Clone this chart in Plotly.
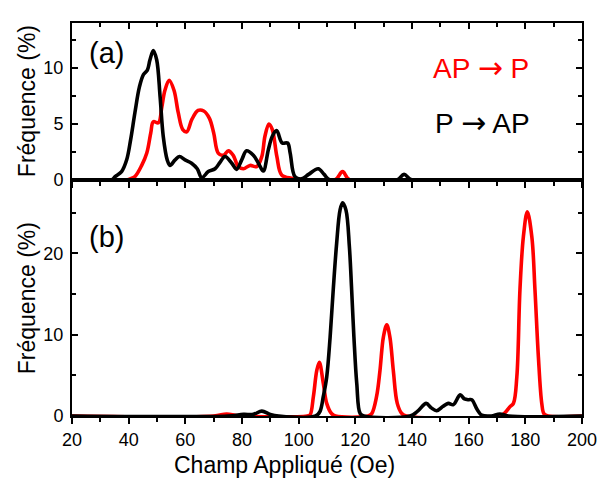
import plotly.graph_objects as go

# ---- data ----
# Panel (a)
a_black_x = [20, 34, 35.2, 37.5, 39.3, 40.7, 42.2, 43.8, 45.2, 46.6, 47.5, 48.7, 49.9, 51.1, 52.2, 53.6,
             54.6, 56.4, 57.9, 59.9, 62.2, 64.2, 65.8, 68.1, 70.5, 72.3, 74, 76.4, 78.1, 79.9, 81.6, 84,
             85.8, 87.5, 89.3, 90.7, 92.2, 94.2, 96.1, 97, 98.7, 101, 103.5, 106.9, 109, 111, 134.6,
             137.2, 140, 200]
a_black_y = [0, 0, 0.3, 0.75, 1.8, 3.6, 6.0, 8.3, 9.4, 9.8, 10.7, 11.55, 10.7, 7.4, 3.9, 1.8,
             1.3, 1.8, 2.1, 1.8, 1.5, 1.0, 0.2, 0.75, 1.0, 1.6, 2.1, 1.5, 0.95, 1.8, 2.6, 2.2,
             1.5, 0.8, 2.7, 3.9, 4.4, 3.3, 3.3, 2.4, 0.3, 0.1, 0.5, 1.0, 0.5, 0, 0,
             0.5, 0, 0]
a_red_x = [20, 39, 40.5, 42.2, 44.6, 46.4, 47.8, 48.7, 50.5, 51.7, 52.8, 54.3, 56.0, 57.5, 59.1, 60.5,
           62.3, 64.5, 66.5, 68.5, 70.0, 71.6, 73.4, 75.2, 76.9, 78.7, 80.5, 82.8, 85.2, 87,
           88.1, 89.5, 90.7, 92.3, 94, 97.5, 101, 112.8, 115.5, 118.1, 200]
a_red_y = [0, 0, 0.1, 0.3, 1.3, 2.4, 4.2, 5.2, 5.1, 6.5, 8.0, 8.9, 8.0, 6.0, 4.5, 4.3,
           5.4, 6.2, 6.15, 5.5, 4.2, 2.4, 2.2, 2.6, 2.2, 1.2, 1.0, 1.3, 1.2, 2.1,
           3.9, 5.0, 4.5, 2.1, 0.45, 0.15, 0.05, 0, 0.75, 0, 0]

# Panel (b)
b_black_x = [20, 75, 80.5, 84, 87, 90, 93, 106, 107.5, 108.7, 109.9, 111.1, 112.2, 113.4, 114.6, 115.5,
             116.7, 117.9, 118.7, 119.5, 120.5, 121.7, 123, 139.3, 142, 145, 146.8, 148.7, 151, 152.8,
             154.6, 157, 158.5, 160, 161.1, 163, 164.6, 168, 171, 174, 200]
b_black_y = [0, 0, 0.2, 0.2, 0.6, 0.2, 0, 0, 0.53, 2.4, 4.8, 9.7, 15.5, 21.2, 25.3, 26.2,
             25.3, 20.8, 15.5, 9.7, 4.0, 0.3, 0, 0, 0.6, 1.55, 1.0, 0.65, 1.2, 1.55,
             1.4, 2.6, 2.1, 2.0, 2.0, 0.8, 0.1, 0, 0.25, 0, 0]
b_red_x = [20, 70, 74.6, 79, 103, 104, 105.2, 106.4, 107.3, 108.7, 109.9, 111.6, 113, 124.5, 125.8,
           127.5, 128.7, 129.9, 131.1, 132.2, 133.4, 134.8, 136.4, 138, 171, 172.8, 174.6, 175.8,
           177.0, 178.1, 179.3, 180.7, 182.3, 183.4, 184.6, 185.8, 186.6, 188, 200]
b_red_y = [0, 0, 0.25, 0, 0, 0.12, 2.4, 5.6, 6.6, 4.0, 1.55, 0.3, 0, 0, 0.3,
           2.4, 5.6, 9.7, 11.2, 9.7, 5.6, 1.55, 0.3, 0, 0, 0.4, 1.15, 1.55,
           4.8, 15.5, 22.0, 25.1, 22.0, 15.5, 7.3, 1.55, 0.25, 0, 0]

x_tick_vals = [20, 40, 60, 80, 100, 120, 140, 160, 180, 200]
a_tick_vals = [0, 5, 10]
b_tick_vals = [0, 10, 20]

legend_labels = ["AP {arrow} P", "P {arrow} AP"]
panel_labels = ["(a)", "(b)"]
x_title = "Champ Appliqué (Oe)"
y_title = "Fréquence (%)"

RED = "#ff0000"
BLACK = "#000000"
FONT = "Liberation Sans, Arial, sans-serif"
LW = 3.6
SM = 1.0

fig = go.Figure()
fig.add_trace(go.Scatter(x=a_red_x, y=a_red_y, mode="lines", line=dict(color=RED, width=LW, shape="spline", smoothing=SM),
                         xaxis="x", yaxis="y", showlegend=False, hoverinfo="skip"))
fig.add_trace(go.Scatter(x=a_black_x, y=a_black_y, mode="lines", line=dict(color=BLACK, width=LW, shape="spline", smoothing=SM),
                         xaxis="x", yaxis="y", showlegend=False, hoverinfo="skip"))
fig.add_trace(go.Scatter(x=a_black_x, y=a_black_y, mode="lines", line=dict(color="rgba(0,0,0,0)", width=0),
                         xaxis="x3", yaxis="y", showlegend=False, hoverinfo="skip"))
fig.add_trace(go.Scatter(x=b_red_x, y=b_red_y, mode="lines", line=dict(color=RED, width=LW, shape="spline", smoothing=SM),
                         xaxis="x2", yaxis="y2", showlegend=False, hoverinfo="skip"))
fig.add_trace(go.Scatter(x=b_black_x, y=b_black_y, mode="lines", line=dict(color=BLACK, width=LW, shape="spline", smoothing=SM),
                         xaxis="x2", yaxis="y2", showlegend=False, hoverinfo="skip"))

split = 0.6005
common_x = dict(range=[20, 200], showgrid=False, zeroline=False, linecolor="black", linewidth=2,
                tickcolor="black", tickwidth=1.5, automargin=False)

fig.update_layout(
    width=599, height=484, autosize=False,
    margin=dict(l=72, r=17, t=23, b=68, autoexpand=False),
    paper_bgcolor="white", plot_bgcolor="rgba(0,0,0,0)",
    font=dict(family=FONT, size=18, color="black"),
    xaxis=dict(**common_x, domain=[0, 1], anchor="y", showline=True, mirror=True,
               ticks="outside", ticklen=6, tickvals=x_tick_vals, showticklabels=False,
               minor=dict(dtick=10, tick0=20, ticks="outside", ticklen=4, tickcolor="black", tickwidth=1.5)),
    xaxis3=dict(**common_x, overlaying="x", anchor="y", side="top", matches="x", showline=False,
                ticks="inside", ticklen=6, tickvals=x_tick_vals, showticklabels=False,
                minor=dict(dtick=10, tick0=20, ticks="inside", ticklen=4, tickcolor="black", tickwidth=1.5)),
    yaxis=dict(domain=[split, 1], anchor="x", range=[0, 14], showgrid=False, zeroline=False,
               showline=True, mirror="ticks", linecolor="black", linewidth=2, automargin=False,
               ticks="inside", ticklen=6, tickwidth=1.5, tickcolor="black", tickvals=a_tick_vals,
               ticklabelstandoff=3,
               minor=dict(dtick=2.5, tick0=0, ticks="inside", ticklen=4, tickcolor="black", tickwidth=1.5)),
    xaxis2=dict(**common_x, domain=[0, 1], anchor="y2", showline=True, mirror=True,
                ticks="outside", ticklen=6, tickvals=x_tick_vals, showticklabels=True,
                minor=dict(dtick=10, tick0=20, ticks="outside", ticklen=4, tickcolor="black", tickwidth=1.5)),
    yaxis2=dict(domain=[0, split], anchor="x2", range=[0, 29], showgrid=False, zeroline=False,
                showline=True, mirror="ticks", linecolor="black", linewidth=2, automargin=False,
                ticks="inside", ticklen=6, tickwidth=1.5, tickcolor="black", tickvals=b_tick_vals,
                ticklabelstandoff=3,
                minor=dict(dtick=5, tick0=0, ticks="inside", ticklen=4, tickcolor="black", tickwidth=1.5)),
)

arrow = "<span style='font-family:DejaVu Sans; font-size:30px'>\u2192</span>"
ann = [
    dict(text=panel_labels[0], x=0.0686, y=0.9237, size=29, color=BLACK),
    dict(text=panel_labels[1], x=0.0686, y=0.4555, size=29, color=BLACK),
    dict(text=legend_labels[0].format(arrow=arrow), x=0.802, y=0.888, size=28, color=RED),
    dict(text=legend_labels[1].format(arrow=arrow), x=0.804, y=0.7468, size=28, color=BLACK),
    dict(text=y_title, x=-0.088, y=0.8015, textangle=-90, size=23, color=BLACK),
    dict(text=y_title, x=-0.088, y=0.300, textangle=-90, size=23, color=BLACK),
    dict(text=x_title, x=0.4176, y=-0.125, size=23, color=BLACK),
]
for a in ann:
    size = a.pop("size")
    color = a.pop("color")
    fig.add_annotation(xref="paper", yref="paper", showarrow=False, xanchor="center", yanchor="middle",
                       font=dict(family=FONT, size=size, color=color), **a)

fig.write_html("out.html",
               config={"displayModeBar": False, "responsive": False},
               post_script="document.body.style.margin='0';document.body.style.padding='0';"
                           "document.body.style.overflow='hidden';")
